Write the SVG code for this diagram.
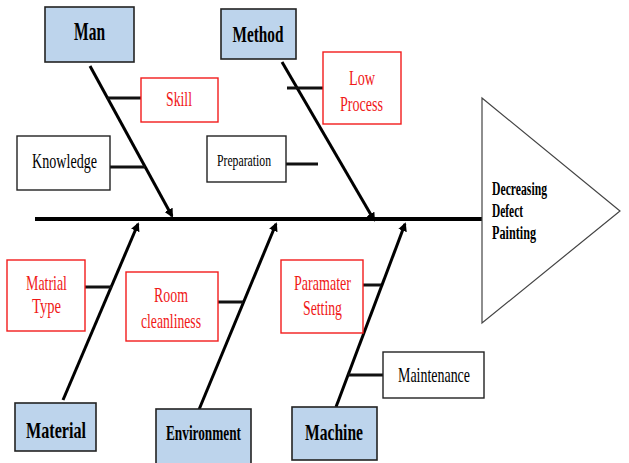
<svg xmlns="http://www.w3.org/2000/svg" width="629" height="463" viewBox="0 0 629 463">
<style>
.cat{fill:#bdd4ec;stroke:#222;stroke-width:1.6}
.cause{fill:#fff;stroke:#222;stroke-width:1.4}
.red{fill:#fff;stroke:#f21c1c;stroke-width:1.4}
.t{font-family:'Liberation Serif','Times New Roman',serif;font-size:22px;text-anchor:middle}
.b{font-weight:bold}
.rt{fill:#f01818}
.bone{stroke:#000;stroke-width:3;fill:none}
.sub{stroke:#111;stroke-width:3;fill:none}
</style>
<defs>
<marker id="ah" markerWidth="9" markerHeight="9" refX="7" refY="4.5" orient="auto" markerUnits="userSpaceOnUse" viewBox="0 0 9 9">
<path d="M0,0 L9,4.5 L0,9 z" fill="#000"/>
</marker>
</defs>
<rect width="629" height="463" fill="#fff"/>
<g id="connectors">
<line x1="35" y1="219" x2="482" y2="219" stroke="#000" stroke-width="4"/>
<line class="bone" x1="90" y1="66" x2="172" y2="216" marker-end="url(#ah)"/>
<line class="bone" x1="282" y1="62" x2="374" y2="220" marker-end="url(#ah)"/>
<line class="bone" x1="63" y1="400" x2="138" y2="224" marker-end="url(#ah)"/>
<line class="bone" x1="198" y1="412" x2="276" y2="224" marker-end="url(#ah)"/>
<line class="bone" x1="336" y1="407" x2="405" y2="224" marker-end="url(#ah)"/>
<line class="sub" x1="107" y1="98" x2="141" y2="98"/>
<line class="sub" x1="110" y1="167" x2="145" y2="167"/>
<line class="sub" x1="287" y1="88" x2="323" y2="88"/>
<line class="sub" x1="283" y1="164" x2="318" y2="164"/>
<line class="sub" x1="85" y1="287" x2="112" y2="287"/>
<line class="sub" x1="218" y1="302" x2="243" y2="302"/>
<line class="sub" x1="363" y1="285" x2="381" y2="285"/>
<line class="sub" x1="348" y1="375" x2="383" y2="375"/>
</g>
<g id="head">
<polygon points="482,98 620,211 482,323" fill="#fff" stroke="#444" stroke-width="1.2"/>
<text class="t b" x="492" y="195" style="text-anchor:start;font-size:18px" textLength="55" lengthAdjust="spacingAndGlyphs">Decreasing</text>
<text class="t b" x="492" y="217" style="text-anchor:start;font-size:18px" textLength="31" lengthAdjust="spacingAndGlyphs">Defect</text>
<text class="t b" x="492" y="239" style="text-anchor:start;font-size:18px" textLength="44" lengthAdjust="spacingAndGlyphs">Painting</text>
</g>
<g id="man">
<rect class="cat" x="45" y="7" width="89" height="55"/>
<text class="t b" x="89.5" y="40" style="font-size:25px" textLength="31" lengthAdjust="spacingAndGlyphs">Man</text>
</g>
<g id="method">
<rect class="cat" x="221" y="9" width="75" height="50"/>
<text class="t b" x="258" y="42" style="font-size:24px" textLength="51" lengthAdjust="spacingAndGlyphs">Method</text>
</g>
<g id="skill">
<rect class="red" x="141" y="78" width="77" height="44"/>
<text class="t rt" x="179" y="106" textLength="26" lengthAdjust="spacingAndGlyphs">Skill</text>
</g>
<g id="knowledge">
<rect class="cause" x="17" y="136" width="93" height="54"/>
<text class="t" x="64.5" y="168" textLength="65" lengthAdjust="spacingAndGlyphs">Knowledge</text>
</g>
<g id="preparation">
<rect class="cause" x="207" y="136" width="79" height="46"/>
<text class="t" x="244" y="166" style="font-size:17px" textLength="54" lengthAdjust="spacingAndGlyphs">Preparation</text>
</g>
<g id="lowprocess">
<rect class="red" x="323" y="52" width="78" height="72"/>
<text class="t rt" x="362" y="85" textLength="26" lengthAdjust="spacingAndGlyphs">Low</text>
<text class="t rt" x="361.5" y="111" textLength="43" lengthAdjust="spacingAndGlyphs">Process</text>
</g>
<g id="matrialtype">
<rect class="red" x="7" y="260" width="78" height="71"/>
<text class="t rt" x="46.5" y="290" textLength="41" lengthAdjust="spacingAndGlyphs">Matrial</text>
<text class="t rt" x="46.5" y="313" textLength="29" lengthAdjust="spacingAndGlyphs">Type</text>
</g>
<g id="roomcleanliness">
<rect class="red" x="126" y="272" width="92" height="69"/>
<text class="t rt" x="171" y="302" textLength="34" lengthAdjust="spacingAndGlyphs">Room</text>
<text class="t rt" x="171" y="328" textLength="60" lengthAdjust="spacingAndGlyphs">cleanliness</text>
</g>
<g id="paramatersetting">
<rect class="red" x="281" y="260" width="82" height="73"/>
<text class="t rt" x="322.5" y="290" textLength="57" lengthAdjust="spacingAndGlyphs">Paramater</text>
<text class="t rt" x="322.5" y="315" textLength="39" lengthAdjust="spacingAndGlyphs">Setting</text>
</g>
<g id="maintenance">
<rect class="cause" x="383" y="352" width="101" height="46"/>
<text class="t" x="434" y="382" textLength="72" lengthAdjust="spacingAndGlyphs">Maintenance</text>
</g>
<g id="material">
<rect class="cat" x="15" y="403" width="81" height="48"/>
<text class="t b" x="56" y="438" style="font-size:23px" textLength="60" lengthAdjust="spacingAndGlyphs">Material</text>
</g>
<g id="environment">
<rect class="cat" x="156" y="409" width="95" height="56"/>
<text class="t b" x="203.5" y="440" style="font-size:20px" textLength="75" lengthAdjust="spacingAndGlyphs">Environment</text>
</g>
<g id="machine">
<rect class="cat" x="292" y="407" width="85" height="53"/>
<text class="t b" x="334" y="440" style="font-size:23px" textLength="58" lengthAdjust="spacingAndGlyphs">Machine</text>
</g>
</svg>
